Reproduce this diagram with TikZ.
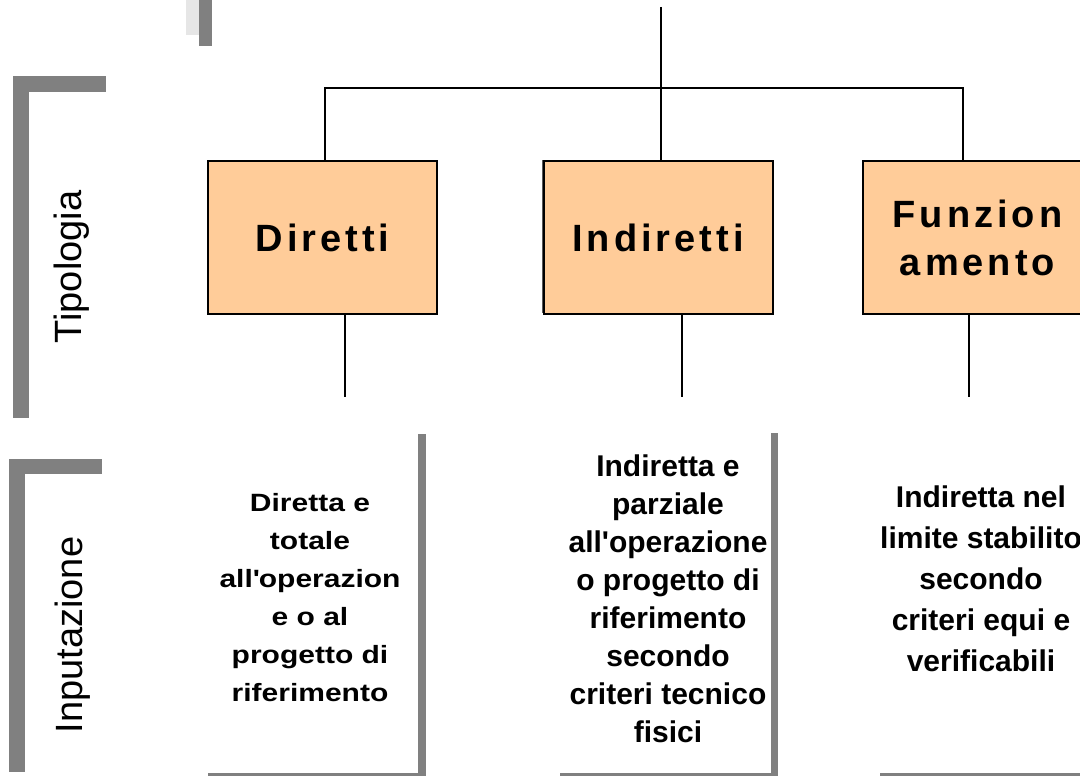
\documentclass[tikz,border=0pt]{standalone}
\usepackage{fontspec}
\setmainfont{Liberation Sans}
\newfontfamily\boxfont{Liberation Sans}[LetterSpace=10.5]
\newfontfamily\widefont{Liberation Sans}[FakeStretch=1.2]
\usetikzlibrary{shadows}
\definecolor{boxfill}{HTML}{FFCC99}
\definecolor{bargray}{HTML}{808080}
\definecolor{lightbar}{HTML}{E6E6E6}
\tikzset{
  tbox/.style={draw=black, line width=2pt, fill=boxfill, minimum width=229pt, minimum height=153pt,
    inner sep=0pt, align=center,
    general shadow={fill=bargray!70!black, shadow xshift=-1.5pt, shadow yshift=1.5pt},
    font=\boxfont\bfseries\fontsize{38}{48}\selectfont},
  conn/.style={draw=black, line width=1.5pt},
  bar/.style={fill=bargray},
  sidelabel/.style={rotate=90, font=\fontsize{38}{44}\selectfont, inner sep=0pt},
  coltext/.style={align=center, inner sep=0pt, font=\bfseries\fontsize{30}{38}\selectfont},
}
\begin{document}
\begin{tikzpicture}[x=1pt,y=-1pt]
\clip (0,0) rectangle (1080,776);
\fill[white] (0,0) rectangle (1080,776);
% top decorative bars
\fill[lightbar] (186,0) rectangle (199,35);
\fill[bar] (199,0) rectangle (212,46);
% Tipologia bracket
\fill[bar] (13,76) rectangle (29,418);
\fill[bar] (13,76) rectangle (106,92);
% Inputazione bracket
\fill[bar] (9,459) rectangle (25,772);
\fill[bar] (9,459) rectangle (102,474);
% column bars
\fill[bar] (418,434) rectangle (426,776);
\fill[bar] (208,773) rectangle (426,776);
\fill[bar] (771,433) rectangle (778,776);
\fill[bar] (560,773) rectangle (778,776);
\fill[bar] (880,773) rectangle (1080,776);
% side labels
\node[sidelabel] (tip) at (72,267) {Tipologia};
\node[sidelabel] (inp) at (73,635) {Inputazione};
% boxes
\node[tbox] (dir) at (322.5,237.5) {Diretti};
\node[tbox] (ind) at (658,237.5) {Indiretti};
\node[tbox] (fun) at (977.5,237.5) {Funzion\\amento};
% connectors
\coordinate (top) at (661,7);
\coordinate (jl) at (325,88);
\coordinate (jr) at (963,88);
\draw[conn] (top) -- (top |- ind.north);
\draw[conn] (jl |- dir.north) -- (jl) -- (jr) -- (jr |- fun.north);
\coordinate (d1) at (345,397);
\coordinate (d2) at (682,397);
\coordinate (d3) at (969,397);
\draw[conn] (d1 |- dir.south) -- (d1);
\draw[conn] (d2 |- ind.south) -- (d2);
\draw[conn] (d3 |- fun.south) -- (d3);
% column texts
\node[coltext, font=\widefont\bfseries\fontsize{25}{38}\selectfont] (t1) at (310,598)
  {Diretta e\\totale\\all\textquotesingle operazion\\e o al\\progetto di\\riferimento};
\node[coltext] (t2) at (668,599)
  {Indiretta e\\parziale\\all\textquotesingle operazione\\o progetto di\\riferimento\\secondo\\criteri tecnico\\fisici};
\node[coltext, font=\bfseries\fontsize{30}{41}\selectfont] (t3) at (981,579)
  {Indiretta nel\\limite stabilito\\secondo\\criteri equi e\\verificabili};
\end{tikzpicture}
\end{document}
